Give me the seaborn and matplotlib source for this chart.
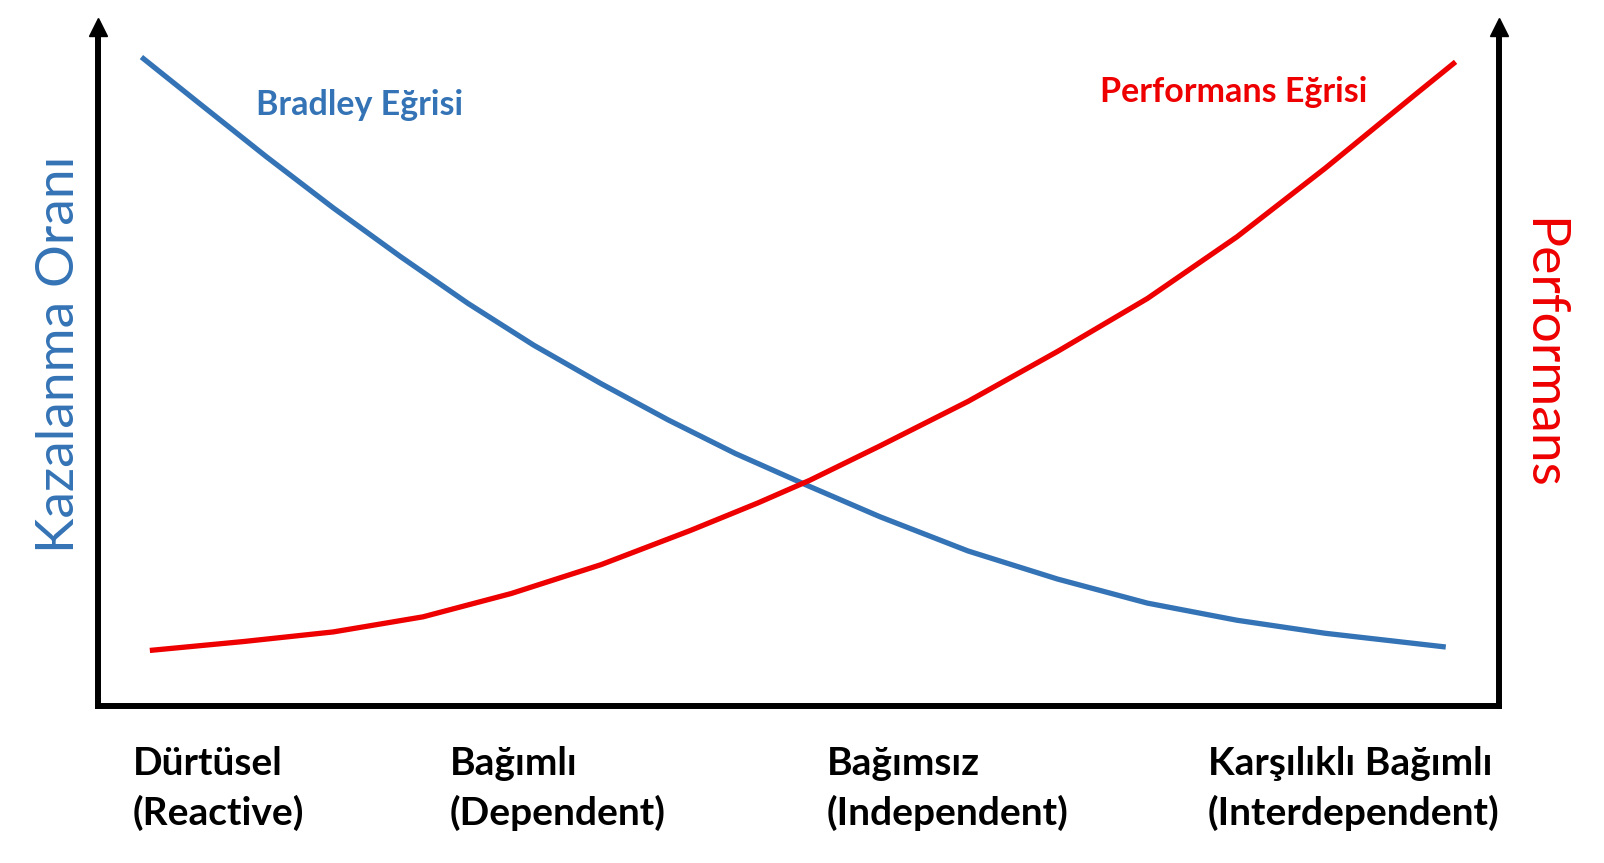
import numpy as np
import pandas as pd
import seaborn as sns
import matplotlib.pyplot as plt

# values (x: 0-10 along the axis, y: 0-100 of the height)
bradley_x = [0.31, 0.72, 1.20, 1.68, 2.16, 2.64, 3.11, 3.59, 4.07, 4.55, 5.08,
             5.58, 6.21, 6.85, 7.49, 8.13, 8.76, 9.62]
bradley_y = [94.6, 87.9, 80.1, 72.6, 65.5, 58.7, 52.6, 47.0, 41.7, 36.8, 32.0,
             27.6, 22.6, 18.5, 15.0, 12.5, 10.6, 8.6]

perf_x = [0.37, 1.04, 1.68, 2.32, 2.95, 3.59, 4.23, 4.71, 5.08, 5.58, 6.21,
          6.85, 7.49, 8.13, 8.76, 9.40, 9.69]
perf_y = [8.1, 9.4, 10.8, 13.0, 16.4, 20.6, 25.6, 29.6, 32.9, 37.9, 44.4,
          51.7, 59.4, 68.4, 78.4, 89.1, 93.9]

stage_labels = ["Dürtüsel\n(Reactive)", "Bağımlı\n(Dependent)",
                "Bağımsız\n(Independent)", "Karşılıklı Bağımlı\n(Interdependent)"]

curve_names = ["Bradley Eğrisi", "Performans Eğrisi"]
left_title = "Kazalanma Oranı"
right_title = "Performans"

BLUE = "#3473B5"
RED = "#EE0000"

sns.set_style("white")
plt.rcParams['font.family'] = ['Lato', 'DejaVu Sans']

W, H = 1604, 863
fig = plt.figure(figsize=(W / 100, H / 100), dpi=100)
ax = fig.add_axes([98 / W, 1 - 706 / H, (1499 - 98) / W, (706 - 36) / H])

df_b = pd.DataFrame({"x": bradley_x, "y": bradley_y})
df_p = pd.DataFrame({"x": perf_x, "y": perf_y})
sns.lineplot(data=df_b, x="x", y="y", color=BLUE, linewidth=3.8, ax=ax,
             sort=False, solid_capstyle="butt")
sns.lineplot(data=df_p, x="x", y="y", color=RED, linewidth=3.8, ax=ax,
             sort=False, solid_capstyle="butt")

ax.set_xlim(0, 10)
ax.set_ylim(0, 97.67)

for side in ["left", "right", "bottom"]:
    ax.spines[side].set_visible(True)
    ax.spines[side].set_color("black")
    ax.spines[side].set_linewidth(4.3)
ax.spines["top"].set_visible(False)

# arrow heads on the two vertical axes
ax.plot([0, 1], [1.0127, 1.0127], marker="^", markersize=13.5, color="black",
        linestyle="none", transform=ax.transAxes, clip_on=False)

ax.set_yticks([])
ax.set_xticks([0.25, 2.51, 5.20, 7.92])
ax.set_xticklabels(stage_labels, ha="left", fontsize=28, fontweight="bold",
                   color="black", linespacing=1.46)
ax.tick_params(axis="x", length=0, pad=29)
ax.set_xlabel("")
ax.set_ylabel("")

fig.text(256 / W, 1 - 105 / H, curve_names[0], color=BLUE, fontsize=24.5,
         fontweight="bold", ha="left", va="center")
fig.text(1100 / W, 1 - 92 / H, curve_names[1], color=RED, fontsize=24.5,
         fontweight="bold", ha="left", va="center")

fig.text(60 / W, 1 - 354 / H, left_title, color=BLUE, fontsize=38.5,
         rotation=90, ha="center", va="center")
fig.text(1542 / W, 1 - 354 / H, right_title, color=RED, fontsize=38.5,
         rotation=270, ha="center", va="center")

fig.savefig("out.png", dpi=100, facecolor="white")
